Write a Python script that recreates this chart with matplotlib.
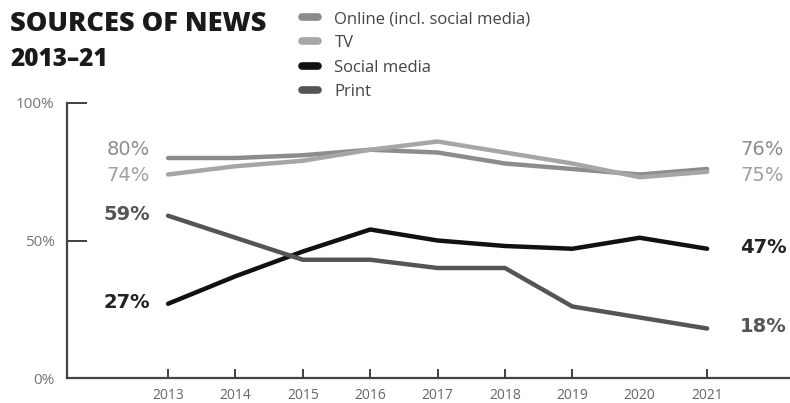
import matplotlib.pyplot as plt
from matplotlib.lines import Line2D

years = [2013, 2014, 2015, 2016, 2017, 2018, 2019, 2020, 2021]
online = [80, 80, 81, 83, 82, 78, 76, 74, 76]
tv = [74, 77, 79, 83, 86, 82, 78, 73, 75]
social = [27, 37, 46, 54, 50, 48, 47, 51, 47]
printed = [59, 51, 43, 43, 40, 40, 26, 22, 18]

names = ['Online (incl. social media)', 'TV', 'Social media', 'Print']
colours = ['#8c8c8c', '#a6a6a6', '#111111', '#555555']
series = [online, tv, social, printed]

# label nudges so that the end labels don't collide
left_shift = [3, -0.5, 0.6, 0.6]
right_shift = [7, -1.5, 0.3, 0.9]
label_bold = [False, False, True, True]
label_colours = ['#8c8c8c', '#a0a0a0', '#222222', '#555555']

plt.rcParams['font.family'] = ['Open Sans', 'DejaVu Sans']

fig = plt.figure(figsize=(7.9, 4.03), dpi=100)
ax = fig.add_axes([67 / 790, 25 / 403, 1 - 67 / 790, 275 / 403])

for vals, col in zip(series, colours):
    ax.plot(years, vals, color=col, lw=3.2, solid_capstyle='round',
            solid_joinstyle='round')

# start and end values
for i, vals in enumerate(series):
    weight = 'bold' if label_bold[i] else 'normal'
    ax.text(years[0] - 0.27, vals[0] + left_shift[i], f'{vals[0]}%',
            ha='right', va='center', fontsize=14, family='DejaVu Sans',
            fontweight=weight, color=label_colours[i])
    ax.text(years[-1] + 0.49, vals[-1] + right_shift[i], f'{vals[-1]}%',
            ha='left', va='center', fontsize=14, family='DejaVu Sans',
            fontweight=weight, color=label_colours[i])

ax.set_xlim(2011.5, 2022.23)
ax.set_ylim(0, 100)
# there is no tick mark at 2020, only its label
ax.set_xticks([2013, 2014, 2015, 2016, 2017, 2018, 2019, 2021])
ax.set_xticks([2020], minor=True)
ax.set_xticklabels(['2013', '2014', '2015', '2016', '2017', '2018', '2019', '2021'])
ax.xaxis.set_minor_formatter(plt.FixedFormatter(['2020']))
ax.tick_params(axis='x', which='major', direction='in', length=6.5, width=1.3,
               color='#333333', labelsize=10, labelcolor='#666666', pad=7)
ax.tick_params(axis='x', which='minor', direction='in', length=0, labelsize=10,
               labelcolor='#666666', pad=7)
ax.set_yticks([0, 50, 100])
ax.set_yticklabels(['0%', '50%', '100%'])
ax.tick_params(axis='y', direction='in', length=14.4, width=1.3, color='#333333',
               labelsize=11, labelcolor='#777777', pad=9)
ax.yaxis.get_major_ticks()[0].tick1line.set_visible(False)

for side in ['top', 'right']:
    ax.spines[side].set_visible(False)
for side in ['left', 'bottom']:
    ax.spines[side].set_color('#444444')
    ax.spines[side].set_linewidth(1.6)
ax.patch.set_visible(False)

fig.text(10 / 790, 1 - 11 / 403, 'SOURCES OF NEWS', ha='left', va='top',
         fontsize=19.5, fontweight='heavy', color='#1a1a1a')
fig.text(10 / 790, 1 - 47 / 403, '2013–21', ha='left', va='top',
         fontsize=17.5, fontweight='heavy', color='#1a1a1a')

handles = [Line2D([], [], color=c, lw=5.5, solid_capstyle='round') for c in colours]
fig.legend(handles, names, loc='upper left', bbox_to_anchor=(302 / 790, 1 - 11 / 403),
           frameon=False, fontsize=12, handlelength=0.95, handletextpad=1.0,
           labelspacing=0.5, borderaxespad=0, borderpad=0, labelcolor='#444444')

fig.savefig('out.png', dpi=100)
